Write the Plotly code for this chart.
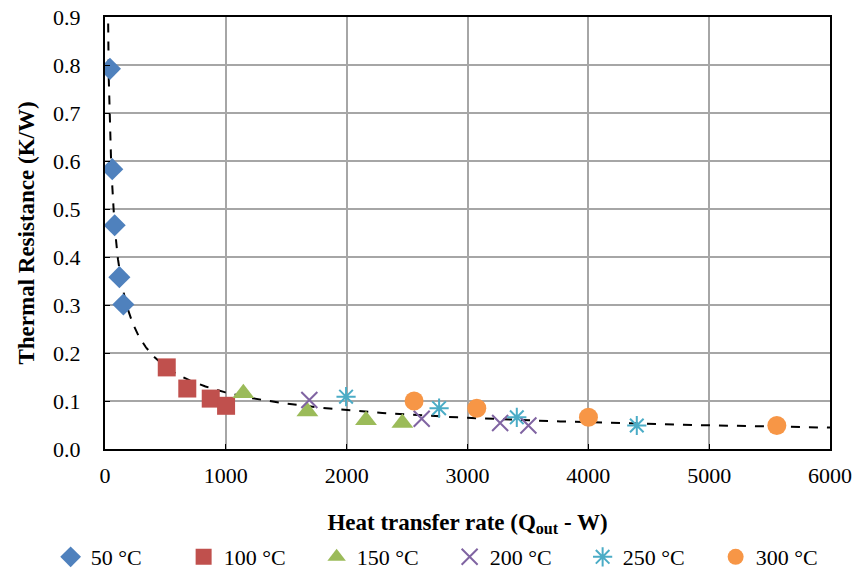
import numpy as np
import plotly.graph_objects as go

# Data
q50 = [41, 60, 80, 119, 152]
r50 = [0.792, 0.583, 0.466, 0.358, 0.301]
q100 = [511, 681, 875, 1002]
r100 = [0.170, 0.126, 0.105, 0.090]
q150 = [1145, 1675, 2160, 2461]
r150 = [0.116, 0.078, 0.060, 0.054]
q200 = [1691, 2621, 3270, 3504]
r200 = [0.102, 0.063, 0.054, 0.049]
q250 = [1995, 2765, 3408, 4401]
r250 = [0.109, 0.085, 0.066, 0.049]
q300 = [2558, 3077, 4001, 5560]
r300 = [0.100, 0.085, 0.066, 0.049]

series = [
    ("50 °C", q50, r50, "diamond", "#4F81BD", 17),
    ("100 °C", q100, r100, "square", "#C0504D", 18),
    ("150 °C", q150, r150, "triangle-up", "#9BBB59", 19),
    ("200 °C", q200, r200, "x-thin", "#8064A2", 16),
    ("250 °C", q250, r250, "asterisk", "#4BACC6", 16),
    ("300 °C", q300, r300, "circle", "#F79646", 19),
]

# Power-law trendline fitted to all points
allq = np.array(q50 + q100 + q150 + q200 + q250 + q300, dtype=float)
allr = np.array(r50 + r100 + r150 + r200 + r250 + r300, dtype=float)
b, ln_a = np.polyfit(np.log(allq), np.log(allr), 1)
a = np.exp(ln_a)
xt = np.geomspace(15, 6000, 400)
yt = a * xt ** b

font = "Liberation Serif, Times New Roman, serif"
fig = go.Figure()
fig.add_trace(go.Scatter(x=xt, y=yt, mode="lines", showlegend=False,
                         line=dict(color="black", width=2, dash="dash"), hoverinfo="skip"))
for name, q, r, sym, col, sz in series:
    line_w = 2 if sym in ("x-thin", "asterisk") else 0
    fig.add_trace(go.Scatter(x=q, y=r, mode="markers", name=name,
                             marker=dict(symbol=sym, color=col, size=sz,
                                         line=dict(color=col, width=line_w))))

fig.update_layout(
    width=857, height=573,
    margin=dict(l=105, r=27, t=17, b=124, autoexpand=False),
    plot_bgcolor="white", paper_bgcolor="white",
    font=dict(family=font, size=22, color="black"),
    legend=dict(orientation="h", x=-0.075, xanchor="left", y=-0.25, yanchor="middle",
                font=dict(family=font, size=22), itemwidth=30,
                entrywidth=88, entrywidthmode="pixels",
                traceorder="normal", tracegroupgap=0),
)
fig.update_xaxes(range=[0, 6000], dtick=1000, showgrid=True, gridcolor="#a6a6a6", gridwidth=1.5,
                 showline=True, linecolor="black", linewidth=2, mirror=True,
                 ticks="inside", ticklen=5, tickcolor="black", zeroline=False,
                 tickfont=dict(family=font, size=22), ticklabelstandoff=6,
                 title=dict(text="<b>Heat transfer rate (Q<sub>out</sub> - W)</b>",
                            font=dict(family=font, size=23), standoff=26))
fig.update_yaxes(range=[0, 0.9], dtick=0.1, tickformat=".1f", showgrid=True, gridcolor="#a6a6a6",
                 gridwidth=1.5, showline=True, linecolor="black", linewidth=2, mirror=True,
                 ticks="inside", ticklen=5, tickcolor="black", zeroline=False,
                 tickfont=dict(family=font, size=22), ticklabelstandoff=18,
                 title=dict(text="<b>Thermal Resistance (K/W)</b>",
                            font=dict(family=font, size=23), standoff=12))

fig.write_html("out.html")
